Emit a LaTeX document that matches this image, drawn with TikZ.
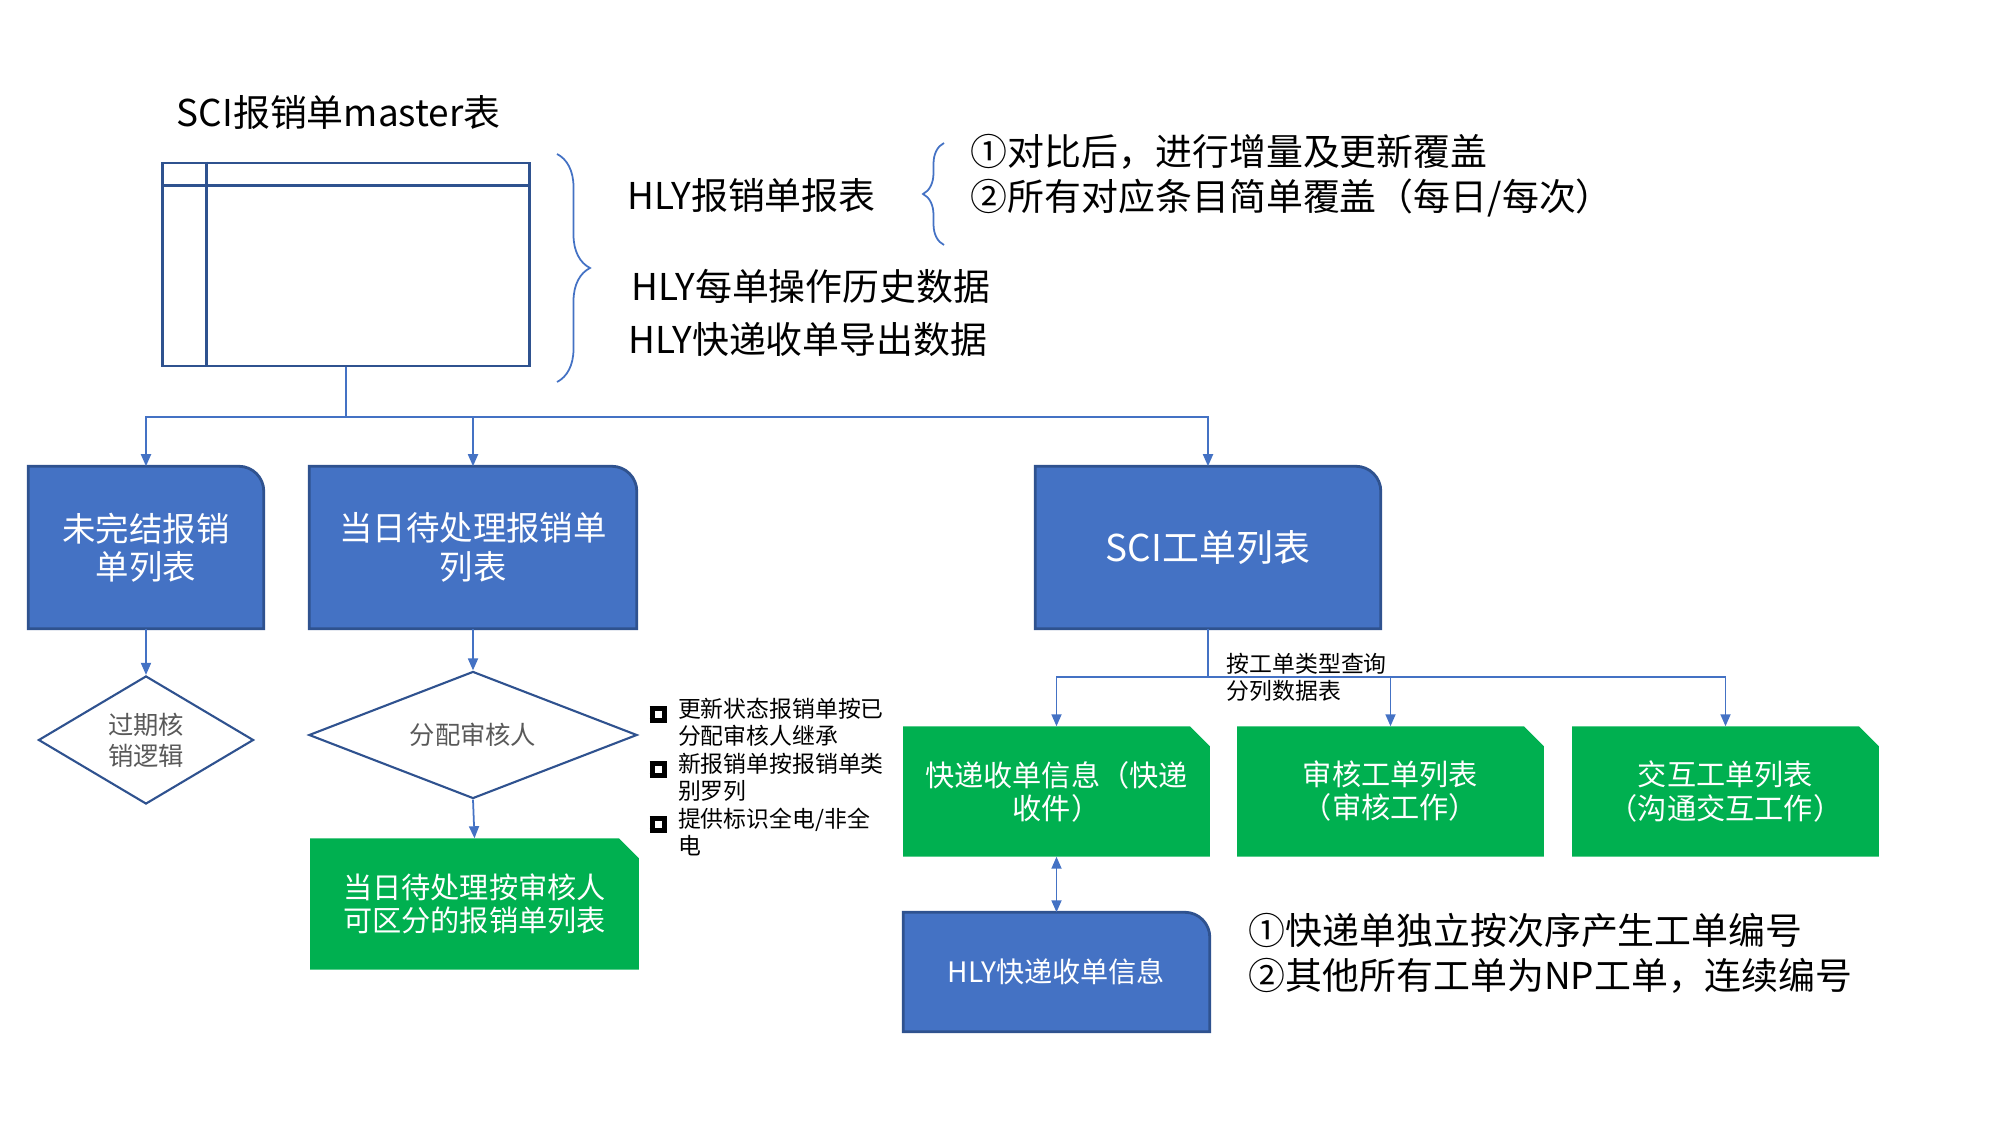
\documentclass[tikz,border=0pt]{standalone}
\usepackage{fontspec}
\setmainfont{Noto Sans CJK SC}
\usepackage{tikz}
\usetikzlibrary{arrows.meta,calc,positioning,shapes.geometric,decorations.pathreplacing,backgrounds}
\usepackage{xcolor}
\definecolor{offblue}{HTML}{4472C4}
\definecolor{offbluedk}{HTML}{2F528F}
\definecolor{offgreen}{HTML}{00B050}
\definecolor{offgray}{HTML}{595959}
\newcommand{\sqmark}{\raisebox{-0.01cm}{\setlength{\fboxsep}{0pt}\setlength{\fboxrule}{1.4pt}\fbox{\rule{0pt}{0.075cm}\rule{0.075cm}{0pt}}}}

\begin{document}
\begin{tikzpicture}[x=0.01cm,y=-0.01cm,
  lbl/.style={font=\fontsize{10.5}{12.8}\selectfont,inner sep=0pt},
  conn/.style={offblue,line width=0.5pt},
  arr/.style={conn,-{Triangle[length=0.12cm,width=0.1cm]}},
  bbox/.style={text=white,align=center,inner sep=0pt,minimum height=1.61cm},
  gbox/.style={text=white,align=center,inner sep=0pt,font=\fontsize{8.3}{9.4}\selectfont},
  dia/.style={diamond,draw=offbluedk,line width=0.6pt,aspect=1.7,inner sep=0pt,text=offgray,
              align=center,font=\fontsize{7.2}{8.8}\selectfont}]
  \useasboundingbox (0,0) rectangle (2000,1125);
  % master table
  \node[lbl,anchor=west] (ttl) at (176,112) {SCI报销单master表};
  \node[draw=offbluedk,line width=0.8pt,minimum width=3.66cm,minimum height=2.03cm,inner sep=0pt] (tbl) at (346,264.5) {};
  \draw[offbluedk,line width=0.8pt] ([xshift=0.45cm]tbl.north west) -- ([xshift=0.45cm]tbl.south west)
    ([yshift=-0.24cm]tbl.north west) -- ([yshift=-0.24cm]tbl.north east);
  \draw[conn,decorate,decoration={brace,amplitude=0.33cm}] (557,154) -- (557,382);
  \draw[conn,decorate,decoration={brace,amplitude=0.21cm}] (944,245) -- (944,143);
  \node[lbl,anchor=west] (hrep) at (627,195) {HLY报销单报表};
  \node[lbl,anchor=west] (hhist) at (631,286) {HLY每单操作历史数据};
  \node[lbl,anchor=west] (hexp) at (628,339) {HLY快递收单导出数据};
  \node[lbl,anchor=west,align=left] (cmp) at (970,175.5) {①对比后，进行增量及更新覆盖\\②所有对应条目简单覆盖（每日/每次）};
  % lists
  \node[bbox,minimum width=2.34cm,font=\fontsize{9.5}{10.9}\selectfont] (b1) at (146,547.5) {未完结报销\\单列表};
  \node[bbox,minimum width=3.26cm,font=\fontsize{9.5}{10.9}\selectfont] (b2) at (473,547.5) {当日待处理报销单\\列表};
  \node[bbox,minimum width=3.44cm,font=\fontsize{10.5}{12}\selectfont] (b3) at (1208,547.5) {SCI工单列表};
  \node[dia,minimum width=2.15cm,minimum height=1.28cm] (d1) at (146,740) {过期核\\销逻辑};
  \node[dia,minimum width=3.28cm,minimum height=1.27cm] (d2) at (473,735) {分配审核人};
  \node[gbox,minimum width=3.27cm,minimum height=1.30cm] (g0) at (474.5,904) {当日待处理按审核人\\可区分的报销单列表};
  \node[anchor=north west,inner sep=0pt,font=\fontsize{6.5}{7.8}\selectfont] (bul) at (649,697)
    {\begin{tabular}{@{}l@{\hspace{0.11cm}}l@{}}\sqmark&更新状态报销单按已\\&分配审核人继承\\
     \sqmark&新报销单按报销单类\\&别罗列\\\sqmark&提供标识全电/非全\\&电\end{tabular}};
  \node[gbox,minimum width=3.05cm,minimum height=1.29cm] (g1) at (1056.5,791.5) {快递收单信息（快递\\收件）};
  \node[gbox,minimum width=3.05cm,minimum height=1.29cm] (g2) at (1390.5,791.5) {审核工单列表\\（审核工作）};
  \node[gbox,minimum width=3.05cm,minimum height=1.29cm] (g3) at (1725.5,791.5) {交互工单列表\\（沟通交互工作）};
  \node[bbox,minimum width=3.05cm,minimum height=1.18cm,font=\fontsize{8}{9}\selectfont] (hly) at (1056.5,972) {HLY快递收单信息};
  \node[anchor=west,align=left,inner sep=0pt,font=\fontsize{6.5}{7.7}\selectfont] (qry) at (1226,677) {按工单类型查询\\分列数据表};
  \node[lbl,anchor=west,align=left] (num) at (1248,953.5) {①快递单独立按次序产生工单编号\\②其他所有工单为NP工单，连续编号};
  \begin{scope}[on background layer]
    \foreach \n in {b1,b2,b3,hly}
      \filldraw[fill=offblue,draw=offbluedk,line width=0.8pt] (\n.south west) -- (\n.north west)
        -- ([xshift=-0.25cm]\n.north east) arc[start angle=90,end angle=0,radius=0.25cm] -- (\n.south east) -- cycle;
    \foreach \n in {g0,g1,g2,g3}
      \fill[offgreen] (\n.south west) -- (\n.north west) -- ([xshift=-0.2cm]\n.north east)
        -- ([yshift=-0.2cm]\n.north east) -- (\n.south east) -- cycle;
  \end{scope}
  % connectors
  \coordinate (tr) at (346,417);
  \draw[conn] (tbl.south) -- (tr);
  \foreach \b in {b1,b2,b3} \draw[arr] (tr) -| (\b.north);
  \draw[arr] (b1.south) -- (d1.north);
  \draw[arr] (b2.south) -- (d2.north);
  \draw[arr] (d2.south) -- (g0.north);
  \coordinate (sp) at (1208,677);
  \draw[conn] (b3.south) -- (sp);
  \foreach \g in {g1,g2,g3} \draw[arr] (sp) -| (\g.north);
  \draw[conn,{Triangle[length=0.12cm,width=0.1cm]}-{Triangle[length=0.12cm,width=0.1cm]}] (g1.south) -- (hly.north);
\end{tikzpicture}
\end{document}
